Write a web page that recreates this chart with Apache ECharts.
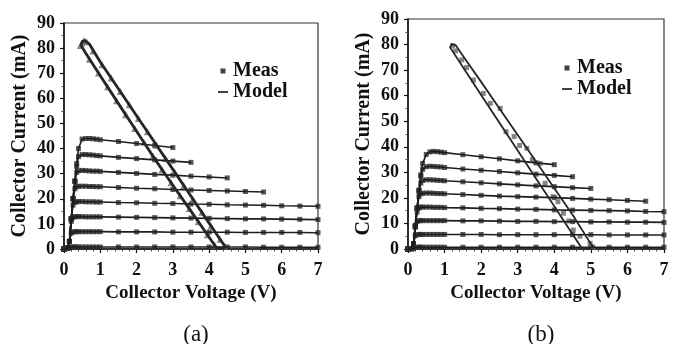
<!DOCTYPE html>
<html><head><meta charset="utf-8">
<script src="https://cdn.jsdelivr.net/npm/echarts@6/dist/echarts.min.js"></script>
<style>html,body{margin:0;padding:0;background:#fff}#c{width:676px;height:344px}</style>
</head><body><div id="c"></div>
<script>
// ---- tick values ----
const xTicks = [0, 1, 2, 3, 4, 5, 6, 7];
const yTicks = [0, 10, 20, 30, 40, 50, 60, 70, 80, 90];
const panelLabels = ['(a)', '(b)'];
const xTitle = 'Collector Voltage (V)';
const yTitle = 'Collector Current (mA)';

// ---- collector voltage sample points (V) ----
const voltages = [0, 0.1, 0.15, 0.2, 0.25, 0.3, 0.35, 0.4, 0.5, 0.6, 0.7, 0.8, 0.9, 1.0, 1.5, 2, 2.5, 3, 3.5, 4, 4.5, 5, 5.5, 6, 6.5, 7];

// ---- panel (a) IV curves, collector current (mA) ----
const ivA1 = [0, 0.2, 0.6, 0.8, 0.8, 0.8, 0.8, 0.8, 0.8, 0.8, 0.8, 0.8, 0.8, 0.8, 0.8, 0.8, 0.8, 0.8, 0.8, 0.8, 0.8, 0.8, 0.7, 0.7, 0.7, 0.7];
const ivA2 = [0, 0.3, 3, 6.3, 6.8, 6.9, 6.9, 6.9, 6.9, 6.9, 6.9, 6.9, 6.9, 6.9, 6.8, 6.8, 6.8, 6.7, 6.7, 6.7, 6.7, 6.6, 6.6, 6.6, 6.6, 6.5];
const ivA3 = [0, 0.3, 3, 11, 12.6, 12.9, 12.9, 12.9, 12.9, 12.8, 12.8, 12.8, 12.8, 12.8, 12.7, 12.6, 12.5, 12.4, 12.3, 12.2, 12.1, 12.0, 12.0, 11.9, 11.8, 11.7];
const ivA4 = [0, 0.3, 3, 12, 17.5, 18.6, 18.8, 18.9, 18.9, 18.8, 18.8, 18.8, 18.7, 18.7, 18.5, 18.4, 18.2, 18.1, 17.9, 17.8, 17.6, 17.5, 17.4, 17.2, 17.1, 17.0];
const ivA5 = [0, 0.4, 3, 12, 20, 24, 24.8, 25, 25, 25, 24.9, 24.9, 24.8, 24.8, 24.5, 24.2, 24.0, 23.7, 23.5, 23.3, 23.1, 22.9, 22.7, null, null, null];
const ivA6 = [0, 0.4, 3, 12, 20, 27, 30.5, 31.2, 31.3, 31.2, 31.1, 31.0, 31.0, 30.9, 30.5, 30.1, 29.7, 29.4, 29.0, 28.7, 28.3, null, null, null, null, null];
const ivA7 = [0, 0.5, 3, 12, 20, 27, 33, 36.8, 37.6, 37.6, 37.5, 37.4, 37.2, 37.1, 36.5, 36.0, 35.5, 35.0, 34.5, null, null, null, null, null, null, null];
const ivA8 = [0, 0.5, 3, 12, 20, 27, 34, 40, 43.8, 44, 44, 43.9, 43.7, 43.5, 42.8, 42.0, 41.2, 40.4, null, null, null, null, null, null, null, null];

// ---- panel (b) IV curves, collector current (mA) ----
const ivB1 = [0, 0, 0.4, 0.6, 0.7, 0.7, 0.7, 0.7, 0.7, 0.7, 0.7, 0.7, 0.7, 0.7, 0.7, 0.7, 0.7, 0.7, 0.7, 0.7, 0.7, 0.7, 0.7, 0.7, 0.7, 0.7];
const ivB2 = [0, 0.1, 2, 5.2, 5.6, 5.7, 5.7, 5.7, 5.7, 5.7, 5.7, 5.7, 5.7, 5.7, 5.7, 5.7, 5.6, 5.6, 5.6, 5.6, 5.6, 5.6, 5.5, 5.5, 5.5, 5.5];
const ivB3 = [0, 0.1, 2, 8.5, 10.8, 11.1, 11.1, 11.1, 11.1, 11.1, 11.1, 11.1, 11.1, 11.1, 11.0, 11.0, 10.9, 10.8, 10.8, 10.7, 10.7, 10.6, 10.6, 10.5, 10.5, 10.4];
const ivB4 = [0, 0.2, 2, 9, 14.5, 16.1, 16.4, 16.4, 16.4, 16.4, 16.3, 16.3, 16.3, 16.2, 16.1, 15.9, 15.8, 15.6, 15.5, 15.3, 15.2, 15.1, 15.0, 14.9, 14.7, 14.6];
const ivB5 = [0, 0.2, 2, 9, 16, 20.5, 21.6, 21.8, 21.9, 21.9, 21.8, 21.7, 21.7, 21.6, 21.3, 21.0, 20.7, 20.5, 20.3, 20.1, 19.8, 19.5, 19.3, 19.0, 18.7, null];
const ivB6 = [0, 0.2, 2, 9, 16, 22.5, 25.8, 26.8, 27.1, 27.1, 27.0, 26.9, 26.8, 26.7, 26.3, 25.9, 25.5, 25.1, 24.7, 24.4, 24.0, 23.7, null, null, null, null];
const ivB7 = [0, 0.2, 2, 9, 16, 23, 28.5, 31.2, 32.2, 32.4, 32.3, 32.2, 32.1, 31.9, 31.3, 30.8, 30.3, 29.8, 29.3, 28.8, 28.3, null, null, null, null, null];
const ivB8 = [0, 0.2, 2, 9, 16, 23, 29, 33.5, 37, 38, 38.2, 38.1, 37.9, 37.7, 36.9, 36.1, 35.3, 34.5, 33.7, 33.0, null, null, null, null, null, null];

// ---- load-line loops: model (closed path) and measured points, [V, mA] ----
const loopModelA = [[0.58,83.0],[0.7,81.6],[1.0,74.5],[1.5,63.8],[2.0,53.1],[2.5,42.4],[3.0,31.7],[3.5,21.0],[4.0,10.3],[4.3,3.9],[4.45,0.8],[4.35,0.3],[4.2,0.5],[4.0,4.7],[3.5,15.1],[3.0,25.4],[2.5,35.9],[2.0,46.9],[1.5,57.9],[1.0,69.0],[0.6,78.0],[0.47,81.0],[0.5,82.6],[0.58,83.0]];
const loopMeasA = [[0.5,82],[0.55,83],[0.45,81],[0.62,82.5],[0.8,78.8],[1.05,73.4],[1.3,68.1],[1.55,62.7],[1.8,57.4],[2.05,52],[2.3,46.7],[2.55,41.3],[2.8,36],[3.05,30.6],[3.3,25.3],[3.55,19.9],[3.8,14.6],[4.05,9.2],[4.3,3.9],[4.42,1.2],[0.7,75.6],[0.95,70.1],[1.2,64.6],[1.45,59],[1.7,53.5],[1.95,48],[2.2,42.5],[2.45,37],[2.7,31.6],[2.95,26.4],[3.2,21.2],[3.45,16.1],[3.7,10.9],[3.95,5.7],[4.15,1.6]];
const loopModelB = [[1.2,80.2],[1.3,79.8],[1.5,75.6],[2.0,65.4],[2.5,55.0],[3.0,44.6],[3.5,34.2],[4.0,23.8],[4.5,13.4],[5.0,2.0],[5.08,0.6],[4.95,0.3],[4.75,0.4],[4.5,5.8],[4.0,16.7],[3.5,27.6],[3.0,38.5],[2.5,49.4],[2.0,60.3],[1.5,71.2],[1.15,78.9],[1.2,80.2]];
const loopMeasB = [[1.22,79.5],[1.3,77.5],[1.47,74],[1.6,71],[1.79,66.1],[2.06,60.9],[2.25,57],[2.52,55],[2.68,45.9],[2.9,44],[3.05,40.5],[3.25,39.4],[3.4,35],[3.61,33.5],[3.75,25.7],[3.97,20.5],[4.1,18.5],[4.25,14],[4.4,11],[4.52,7.4],[4.7,5],[4.98,2.2],[5.05,0.8]];

const curvesA = [ivA1, ivA2, ivA3, ivA4, ivA5, ivA6, ivA7, ivA8];
const curvesB = [ivB1, ivB2, ivB3, ivB4, ivB5, ivB6, ivB7, ivB8];

const FONT = 'Liberation Serif';
const pairs = c => voltages.map((v, i) => [v, c[i]]).filter(p => p[1] !== null);

function xAxisCfg(gi) {
  return {
    type: 'value', gridIndex: gi, min: xTicks[0], max: xTicks[xTicks.length - 1], interval: xTicks[1] - xTicks[0],
    name: xTitle, nameLocation: 'middle', nameGap: 32,
    nameTextStyle: { fontFamily: FONT, fontWeight: 'bold', fontSize: 19, color: '#111' },
    axisLine: { onZero: false, lineStyle: { color: '#111', width: 1.5 } },
    axisTick: { inside: false, length: 4, lineStyle: { color: '#111', width: 1.2 } },
    minorTick: { show: true, splitNumber: 5, length: 2.5, lineStyle: { color: '#444', width: 1 } },
    splitLine: { show: false },
    axisLabel: { margin: 12, fontFamily: FONT, fontWeight: 'bold', fontSize: 18, color: '#111' }
  };
}
function yAxisCfg(gi) {
  return {
    type: 'value', gridIndex: gi, min: yTicks[0], max: yTicks[yTicks.length - 1], interval: yTicks[1] - yTicks[0],
    name: yTitle, nameLocation: 'middle', nameGap: 34, nameRotate: 90,
    nameTextStyle: { fontFamily: FONT, fontWeight: 'bold', fontSize: 20, color: '#111' },
    axisLine: { onZero: false, lineStyle: { color: '#111', width: 1.5 } },
    axisTick: { inside: false, length: 4, lineStyle: { color: '#111', width: 1.2 } },
    minorTick: { show: true, splitNumber: 2, length: 2.5, lineStyle: { color: '#444', width: 1 } },
    splitLine: { show: false },
    axisLabel: { margin: 9, fontFamily: FONT, fontWeight: 'bold', fontSize: 18, color: '#111' }
  };
}

function panelSeries(gi, curves, loopModel, loopMeas, loopW, loopMarker, loopMarkerSize, loopMarkerColor) {
  const s = [];
  curves.forEach(c => s.push({
    name: 'Model', type: 'line', xAxisIndex: gi, yAxisIndex: gi, data: pairs(c),
    showSymbol: false, symbol: 'none', lineStyle: { color: '#1e1e1e', width: 1.6 }, itemStyle: { color: '#111' },
    silent: true, animation: false
  }));
  curves.forEach(c => s.push({
    name: 'Meas', type: 'scatter', xAxisIndex: gi, yAxisIndex: gi, data: pairs(c),
    symbol: 'rect', symbolSize: 5, itemStyle: { color: '#2e2e2e' }, silent: true, animation: false
  }));
  s.push({
    name: 'Meas', type: 'scatter', xAxisIndex: gi, yAxisIndex: gi, data: loopMeas,
    symbol: loopMarker, symbolSize: loopMarkerSize, itemStyle: { color: loopMarkerColor }, silent: true, animation: false
  });
  s.push({
    name: 'Model', type: 'line', xAxisIndex: gi, yAxisIndex: gi, data: loopModel,
    showSymbol: false, symbol: 'none', lineStyle: { color: '#262626', width: loopW, join: 'round', cap: 'round' }, itemStyle: { color: '#111' },
    silent: true, animation: false
  });
  return s;
}

const legendCfg = (left, top) => ({
  left, top, orient: 'vertical', itemWidth: 10, itemHeight: 5, itemGap: 1, selectedMode: false,
  textStyle: { fontFamily: FONT, fontWeight: 'bold', fontSize: 20, color: '#111', lineHeight: 20 },
  data: [
    { name: 'Meas', icon: 'path://M0,0H5V5H0Z', itemStyle: { color: '#111', borderWidth: 0 } },
    { name: 'Model', icon: 'path://M0,0H10V1.6H0Z', itemStyle: { color: '#111', borderWidth: 0 } }
  ]
});

const chart = echarts.init(document.getElementById('c'), null, { renderer: 'canvas' });
chart.setOption({
  backgroundColor: '#fff',
  animation: false,
  title: [
    { text: panelLabels[0], left: 191, top: 318, textAlign: 'center', textStyle: { fontFamily: FONT, fontWeight: 'normal', fontSize: 23, color: '#111' } },
    { text: panelLabels[1], left: 536, top: 318, textAlign: 'center', textStyle: { fontFamily: FONT, fontWeight: 'normal', fontSize: 23, color: '#111' } }
  ],
  legend: [legendCfg(213, 56), legendCfg(557, 53)],
  grid: [
    { left: 64, top: 23, width: 254, height: 226, show: true, borderColor: '#333', borderWidth: 1.2, backgroundColor: 'transparent' },
    { left: 408, top: 19, width: 256, height: 230, show: true, borderColor: '#333', borderWidth: 1.2, backgroundColor: 'transparent' }
  ],
  xAxis: [xAxisCfg(0), xAxisCfg(1)],
  yAxis: [yAxisCfg(0), yAxisCfg(1)],
  series: [
    ...panelSeries(0, curvesA, loopModelA, loopMeasA, 2.8, 'triangle', 7, '#6a6a6a'),
    ...panelSeries(1, curvesB, loopModelB, loopMeasB, 1.8, 'rect', 5, '#666666')
  ]
});
</script></body></html>
